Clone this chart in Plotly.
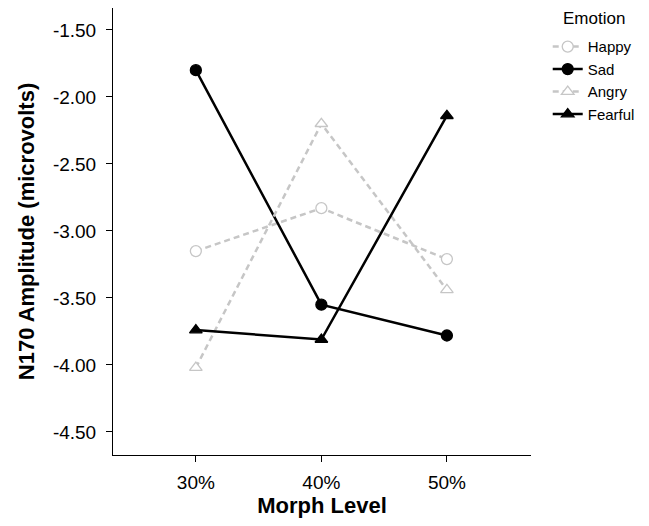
import plotly.graph_objects as go

morph_levels = ["30%", "40%", "50%"]
happy = [-3.15, -2.83, -3.21]
sad = [-1.80, -3.55, -3.78]
angry = [-4.02, -2.20, -3.44]
fearful = [-3.74, -3.81, -2.14]

y_ticks = [-1.5, -2.0, -2.5, -3.0, -3.5, -4.0, -4.5]
y_tick_labels = ["-1.50", "-2.00", "-2.50", "-3.00", "-3.50", "-4.00", "-4.50"]

GRAY = "#c6c6c6"
series = [
    ("Happy", happy, GRAY, "6px,4px", "circle", "white"),
    ("Sad", sad, "black", "solid", "circle", "black"),
    ("Angry", angry, GRAY, "6px,4px", "triangle-up", "white"),
    ("Fearful", fearful, "black", "solid", "triangle-up", "black"),
]

fig = go.Figure()
for name, vals, color, dash, sym, fill in series:
    fig.add_trace(go.Scatter(
        x=[0, 1, 2], y=vals, name=name, mode="lines+markers",
        line=dict(color=color, width=2.5, dash=dash),
        marker=dict(symbol=sym, size=11, color=fill,
                    line=dict(color=color, width=1.3)),
    ))

font = "Liberation Sans, Arial, sans-serif"
fig.update_layout(
    width=641, height=518,
    margin=dict(l=105, r=118, t=0, b=71),
    plot_bgcolor="white", paper_bgcolor="white",
    font=dict(family=font, size=16, color="black"),
    showlegend=True,
    legend=dict(
        x=1.04, y=0.95, xanchor="left", yanchor="top",
        font=dict(size=15), tracegroupgap=0, itemwidth=30,
        bgcolor="rgba(0,0,0,0)",
    ),
    annotations=[dict(
        text="Emotion", x=1.151, y=1 - 10 / 447, xref="paper", yref="paper",
        yanchor="middle", xanchor="center", showarrow=False,
        font=dict(size=17),
    )],
    xaxis=dict(
        range=[-0.66, 2.67], tickvals=[0, 1, 2], ticktext=morph_levels,
        showline=True, linecolor="black", linewidth=1,
        ticks="outside", ticklen=6, tickcolor="black",
        showgrid=False, zeroline=False, ticklabelstandoff=4,
        title=dict(text="<b>Morph Level</b>", font=dict(size=22), standoff=5),
        tickfont=dict(size=19),
    ),
    yaxis=dict(
        range=[-4.672, -1.336], tickvals=y_ticks, ticktext=y_tick_labels,
        showline=True, linecolor="black", linewidth=1,
        ticks="outside", ticklen=6, tickcolor="black",
        showgrid=False, zeroline=False, ticklabelstandoff=6,
        title=dict(text="<b>N170 Amplitude (microvolts)</b>", font=dict(size=22), standoff=12),
        tickfont=dict(size=19),
    ),
)

fig.write_html("out.html")
